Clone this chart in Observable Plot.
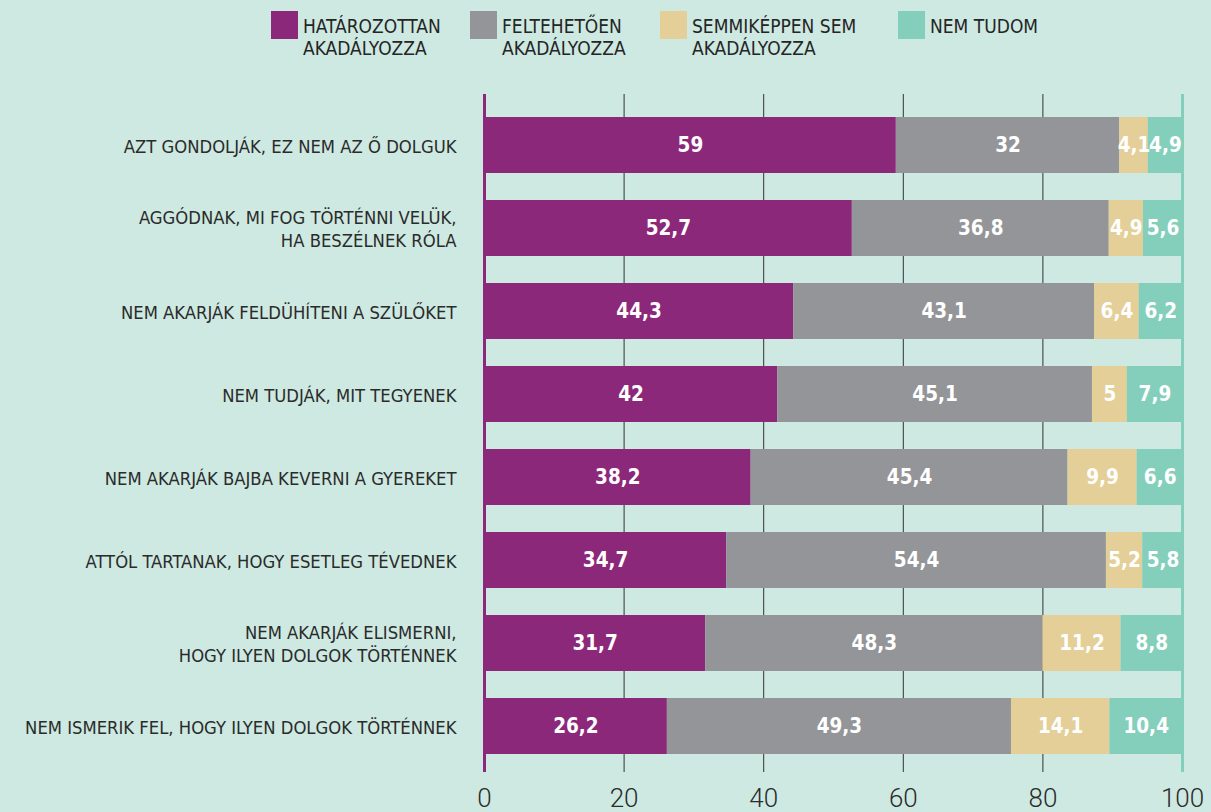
<!DOCTYPE html>
<html><head><meta charset="utf-8">
<script src="https://cdn.jsdelivr.net/npm/d3@7"></script>
<script src="https://cdn.jsdelivr.net/npm/@observablehq/plot@0.6"></script>
<style>
body{margin:0;background:#cde9e1;}
#wrap{width:1211px;height:812px;position:relative;overflow:hidden;background:#cde9e1;font-family:"DejaVu Sans Condensed","Liberation Sans Narrow",sans-serif;}
#legend{position:relative;height:70px;}
.item{position:absolute;top:11px;display:flex;align-items:flex-start;}
.sw{width:27px;height:28px;flex:none;}
.lab{margin-left:5px;font-size:19px;line-height:22px;color:#252525;margin-top:4px;white-space:pre;}
#chart svg{display:block;overflow:visible;}
</style></head>
<body><div id="wrap"><div id="legend"></div><div id="chart"></div></div>
<script>
const questions = [
  "AZT GONDOLJÁK, EZ NEM AZ Ő DOLGUK",
  "AGGÓDNAK, MI FOG TÖRTÉNNI VELÜK,\nHA BESZÉLNEK RÓLA",
  "NEM AKARJÁK FELDÜHÍTENI A SZÜLŐKET",
  "NEM TUDJÁK, MIT TEGYENEK",
  "NEM AKARJÁK BAJBA KEVERNI A GYEREKET",
  "ATTÓL TARTANAK, HOGY ESETLEG TÉVEDNEK",
  "NEM AKARJÁK ELISMERNI,\nHOGY ILYEN DOLGOK TÖRTÉNNEK",
  "NEM ISMERIK FEL, HOGY ILYEN DOLGOK TÖRTÉNNEK"
];
const categories = ["HATÁROZOTTAN\nAKADÁLYOZZA","FELTEHETŐEN\nAKADÁLYOZZA","SEMMIKÉPPEN SEM\nAKADÁLYOZZA","NEM TUDOM"];
const colors = ["#8c2879","#949598","#e3cf97","#84cfbc"];
const hatarozottan = [59, 52.7, 44.3, 42, 38.2, 34.7, 31.7, 26.2];
const feltehetoen  = [32, 36.8, 43.1, 45.1, 45.4, 54.4, 48.3, 49.3];
const semmikeppen  = [4.1, 4.9, 6.4, 5, 9.9, 5.2, 11.2, 14.1];
const nemTudom     = [4.9, 5.6, 6.2, 7.9, 6.6, 5.8, 8.8, 10.4];
const xTicks = [0, 20, 40, 60, 80, 100];
const gridTicks = [20, 40, 60, 80];

const series = [hatarozottan, feltehetoen, semmikeppen, nemTudom];
const data = [];
questions.forEach((q, i) => series.forEach((s, j) => data.push({q, cat: categories[j], value: s[i]})));

// legend
const legend = document.getElementById("legend");
const legendX = [271, 470, 660, 898];
categories.forEach((c, j) => {
  const it = document.createElement("div");
  it.className = "item";
  it.style.left = legendX[j] + "px";
  it.innerHTML = `<div class="sw" style="background:${colors[j]}"></div><div class="lab"></div>`;
  it.querySelector(".lab").textContent = c;
  legend.appendChild(it);
});

const fmt = v => String(v).replace(".", ",");
const font = '"DejaVu Sans Condensed","Liberation Sans Narrow",sans-serif';

const chart = Plot.plot({
  width: 1211,
  height: 742,
  marginLeft: 484,
  marginRight: 29,
  marginTop: 24,
  marginBottom: 35,
  style: {background: "transparent", fontFamily: font, overflow: "visible"},
  x: {domain: [0, 100], axis: null, label: null},
  y: {domain: questions, paddingInner: 0.33, paddingOuter: 0.25, axis: null, label: null},
  color: {domain: categories, range: colors},
  marks: [
    Plot.ruleX(gridTicks, {stroke: "#333", strokeWidth: 1, insetBottom: 5}),
    Plot.ruleX([0], {stroke: "#8c2879", strokeWidth: 3, insetBottom: 5}),
    Plot.ruleX([100], {stroke: "#84cfbc", strokeWidth: 3, insetBottom: 5}),
    Plot.barX(data, {x: "value", y: "q", fill: "cat", order: categories}),
    Plot.text(data, Plot.stackX({x: "value", y: "q", z: "cat", order: categories,
      text: d => fmt(d.value), fill: "white", fontSize: 20.5, fontWeight: "bold"})),
    Plot.axisY({tickSize: 0, tickPadding: 28, fontSize: 18.3, lineHeight: 1.25, fill: "#2b2b2b", tickFormat: d => d, label: null}),
    Plot.axisX({ticks: xTicks, tickSize: 0, tickPadding: 11, fontSize: 26, fill: "#2b2b2b",
      fontFamily: "Roboto", fontWeight: 300, tickFormat: d => d, label: null})
  ]
});
document.getElementById("chart").appendChild(chart);
</script></body></html>
